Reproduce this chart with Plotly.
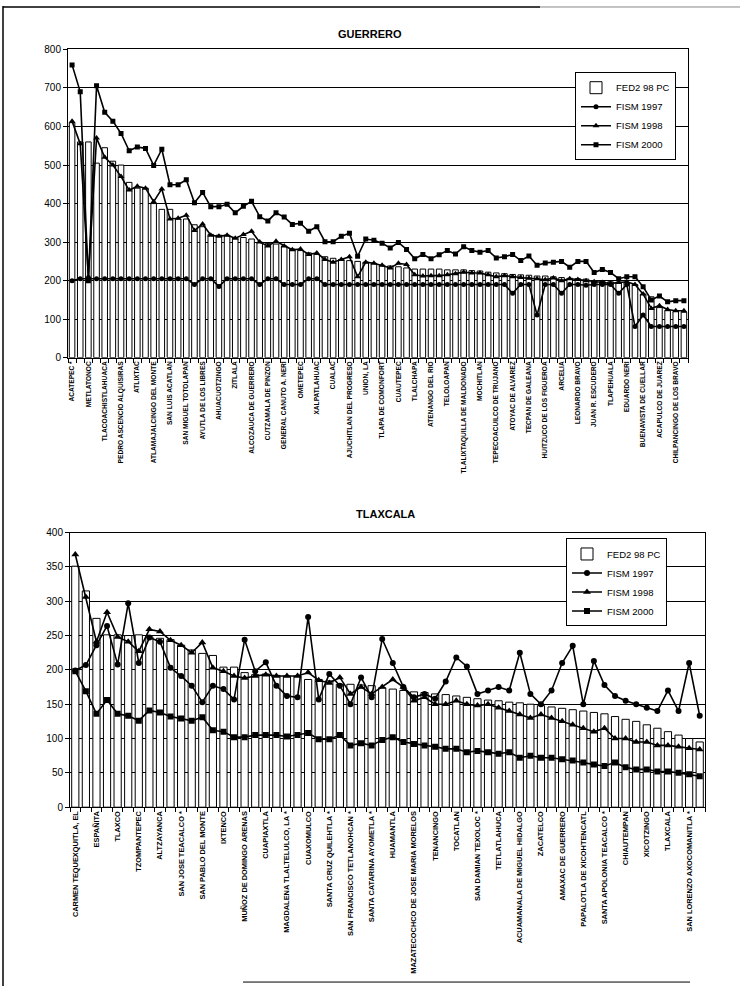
import plotly.graph_objects as go

# ---------------- GUERRERO ----------------
gro_labels = [
    "ACATEPEC *", "METLATONOC", "TLACOACHISTLAHUACA", "PEDRO ASCENCIO ALQUISIRAS",
    "ATLIXTAC", "ATLAMAJALCINGO DEL MONTE", "SAN LUIS ACATLAN", "SAN MIGUEL TOTOLAPAN",
    "AYUTLA DE LOS LIBRES", "AHUACUOTZINGO", "ZITLALA", "ALCOZAUCA DE GUERRERO",
    "CUTZAMALA DE PINZON", "GENERAL CANUTO A. NERI", "OMETEPEC", "XALPATLAHUAC",
    "CUALAC", "AJUCHITLAN DEL PROGRESO", "UNION, LA", "TLAPA DE COMONFORT",
    "CUAUTEPEC", "TLALCHAPA", "ATENANGO DEL RIO", "TELOLOAPAN",
    "TLALIXTAQUILLA DE MALDONADO", "MOCHITLAN", "TEPECOACUILCO DE TRUJANO",
    "ATOYAC DE ALVAREZ", "TECPAN DE GALEANA", "HUITZUCO DE LOS FIGUEROA", "ARCELIA",
    "LEONARDO BRAVO", "JUAN R. ESCUDERO", "TLAPEHUALA", "EDUARDO NERI",
    "BUENAVISTA DE CUELLAR", "ACAPULCO DE JUAREZ", "CHILPANCINGO DE LOS BRAVO",
]
gro_fed = [
    610, 560, 560, 505, 545, 510, 500, 455, 440, 440,
    400, 385, 385, 360, 360, 345, 340, 320, 318, 318,
    312, 312, 308, 300, 296, 295, 290, 282, 278, 272,
    268, 262, 258, 255, 252, 250, 248, 245, 240, 238,
    236, 233, 230, 230, 230, 230, 228, 228, 228, 226,
    225, 222, 220, 218, 216, 215, 214, 212, 212, 210,
    208, 206, 205, 204, 200, 198, 197, 196, 195, 190,
    165, 158, 130, 122, 120, 118,
]
gro_f97 = [
    200, 205, 205, 205, 205, 205, 205, 205, 205, 205,
    205, 205, 205, 205, 205, 190, 205, 205, 185, 205,
    205, 205, 205, 190, 205, 205, 190, 190, 190, 205,
    205, 190, 190, 190, 190, 190, 190, 190, 190, 190,
    190, 190, 190, 190, 190, 190, 190, 190, 190, 190,
    190, 190, 190, 190, 167, 190, 190, 111, 190, 190,
    167, 190, 190, 188, 190, 190, 190, 167, 190, 81,
    111, 81, 81, 81, 81, 81,
]
gro_f98 = [
    614, 555, 210, 570, 520, 500, 470, 435, 445, 440,
    405, 438, 360, 362, 370, 330, 347, 318, 315, 318,
    310, 320, 328, 300, 290, 302, 290, 280, 282, 268,
    272, 255, 248, 255, 262, 210, 248, 245, 240, 233,
    245, 242, 215, 212, 213, 213, 215, 218, 222, 220,
    220, 215, 210, 213, 210, 208, 206, 205, 202, 207,
    200, 205, 203, 200, 197, 195, 193, 195, 197, 190,
    165, 128, 135, 125, 122, 122,
]
gro_f00 = [
    760, 690, 200, 706, 637, 614, 582, 537, 547, 543,
    499, 541, 449, 449, 462, 402, 429, 392, 392, 398,
    376, 393, 406, 366, 355, 376, 365, 346, 349, 328,
    340, 301, 301, 315, 323, 263, 308, 305, 297, 285,
    299, 281, 257, 268, 257, 267, 278, 269, 288, 278,
    274, 278, 259, 262, 268, 252, 264, 240, 246, 248,
    250, 235, 250, 250, 221, 229, 221, 205, 210, 210,
    184, 150, 160, 145, 148, 148,
]

# ---------------- TLAXCALA ----------------
tlx_labels = [
    "CARMEN TEQUEXQUITLA, EL", "ESPAÑITA", "TLAXCO", "TZOMPANTEPEC", "ALTZAYANCA",
    "SAN JOSE TEACALCO *", "SAN PABLO DEL MONTE", "IXTENCO", "MUÑOZ DE DOMINGO ARENAS",
    "CUAPIAXTLA", "MAGDALENA TLALTELULCO, LA *", "CUAXOMULCO", "SANTA CRUZ QUILEHTLA *",
    "SAN FRANCISCO TETLANOHCAN *", "SANTA CATARINA AYOMETLA *", "HUAMANTLA",
    "MAZATECOCHCO DE JOSE MARIA MORELOS", "TENANCINGO", "TOCATLAN", "SAN DAMIAN TEXOLOC *",
    "TETLATLAHUCA", "ACUAMANALA DE MIGUEL HIDALGO", "ZACATELCO", "AMAXAC DE GUERRERO",
    "PAPALOTLA DE XICOHTENCATL", "SANTA APOLONIA TEACALCO *", "CHIAUTEMPAN", "XICOTZINGO",
    "TLAXCALA", "SAN LORENZO AXOCOMANITLA *",
]
tlx_fed = [
    351, 315, 275, 251, 251, 250, 251, 248, 246, 244,
    236, 229, 224, 221, 204, 204, 196, 193, 194, 192,
    191, 191, 186, 186, 184, 179, 179, 178, 177, 174,
    172, 170, 168, 167, 165, 164, 162, 160, 158, 156,
    155, 153, 152, 150, 148, 146, 144, 142, 140, 138,
    136, 132, 128, 125, 120, 115, 110, 105, 100, 95,
]
tlx_f97 = [
    199, 207, 236, 264, 208, 297, 210, 247, 241, 203,
    191, 177, 153, 177, 172, 157, 244, 198, 211, 177,
    162, 160, 277, 157, 194, 177, 150, 189, 160, 245,
    210, 175, 160, 165, 158, 183, 218, 205, 165, 170,
    175, 170, 225, 165, 150, 170, 210, 235, 150, 213,
    178, 162, 155, 150, 145, 140, 170, 140, 210, 133,
]
tlx_f98 = [
    368, 306, 241, 284, 248, 241, 227, 259, 256, 243,
    236, 225, 240, 203, 198, 191, 188, 191, 193, 191,
    191, 191, 196, 185, 181, 189, 165, 175, 165, 175,
    186, 175, 155, 160, 150, 150, 155, 150, 148, 150,
    145, 140, 135, 130, 135, 130, 125, 120, 115, 110,
    115, 100, 100, 95, 95, 90, 90, 88, 86, 84,
]
tlx_f00 = [
    198, 169, 136, 156, 136, 133, 126, 141, 138, 132,
    129, 126, 131, 112, 110, 102, 102, 105, 105, 105,
    103, 105, 108, 99, 99, 105, 90, 93, 90, 98,
    102, 95, 92, 90, 88, 85, 85, 80, 82, 80,
    78, 80, 72, 75, 72, 72, 70, 68, 65, 62,
    60, 65, 58, 55, 55, 52, 52, 50, 48, 45,
]

W, H = 740, 992
FONT = "Liberation Sans, Arial, sans-serif"


def px_x(p):
    return p / W


def px_y(p):
    return 1 - p / H


fig = go.Figure()


def add_panel(xa, ya, legend, fed, f97, f98, f00, msz):
    n = len(fed)
    xs = list(range(1, n + 1))
    common = dict(xaxis=xa, yaxis=ya, legend=legend)
    fig.add_trace(go.Bar(
        x=xs, y=fed, name="FED2 98 PC",
        marker=dict(color="white", line=dict(color="black", width=1)),
        **common))
    specs = [("FISM 1997", f97, "circle", msz),
             ("FISM 1998", f98, "triangle-up", msz + 1),
             ("FISM 2000", f00, "square", msz)]
    for name, ys, sym, sz in specs:
        fig.add_trace(go.Scatter(
            x=xs, y=ys, name=name, mode="lines+markers",
            line=dict(color="black", width=1.6),
            marker=dict(symbol=sym, size=sz, color="black"),
            **common))


add_panel("x", "y", "legend", gro_fed, gro_f97, gro_f98, gro_f00, 5)
add_panel("x2", "y2", "legend2", tlx_fed, tlx_f97, tlx_f98, tlx_f00, 6)


def xaxis_cfg(n, labels, dom, anchor, size):
    return dict(
        domain=dom, anchor=anchor, range=[0.5, n + 0.5],
        tickmode="array", tickvals=list(range(1, n + 1, 2)), ticktext=labels,
        tickangle=-90, ticks="", ticklen=0,
        tickfont=dict(family=FONT, size=size, color="black", weight="bold"),
        minor=dict(ticks="outside", tick0=0.5, dtick=1, ticklen=4,
                   tickcolor="black", showgrid=False),
        showline=True, linecolor="black", linewidth=1, mirror=True,
        showgrid=False, zeroline=False, fixedrange=True,
    )


def yaxis_cfg(rng, dt, dom, anchor):
    return dict(
        domain=dom, anchor=anchor, range=rng, dtick=dt,
        ticks="outside", ticklen=4, tickcolor="black",
        tickfont=dict(family=FONT, size=10, color="black"),
        showline=True, linecolor="black", linewidth=1, mirror=True,
        showgrid=True, gridcolor="black", gridwidth=1,
        zeroline=False, fixedrange=True,
    )


legend_style = dict(
    xanchor="left", yanchor="top",
    bgcolor="white", bordercolor="black", borderwidth=1,
    font=dict(family=FONT, size=9.5, color="black"),
    tracegroupgap=0, itemwidth=30,
)

fig.update_layout(
    width=W, height=H, autosize=False,
    margin=dict(l=0, r=0, t=0, b=0),
    paper_bgcolor="white", plot_bgcolor="white",
    barmode="overlay", bargap=0.32,
    showlegend=True,
    xaxis=xaxis_cfg(len(gro_fed), gro_labels, [px_x(68), px_x(688)], "y", 6.6),
    yaxis=yaxis_cfg([0, 800], 100, [px_y(356), px_y(44)], "x"),
    xaxis2=xaxis_cfg(len(tlx_fed), tlx_labels, [px_x(70), px_x(705)], "y2", 7.4),
    yaxis2=yaxis_cfg([0, 400], 50, [px_y(811), px_y(533)], "x2"),
    legend=dict(x=px_x(575), y=px_y(67), **legend_style),
    legend2=dict(x=px_x(566), y=px_y(539), **legend_style),
    annotations=[
        dict(text="<b>GUERRERO</b>", x=px_x(370), y=px_y(28), xref="paper", yref="paper",
             yanchor="middle", showarrow=False,
             font=dict(family=FONT, size=11, color="black")),
        dict(text="<b>TLAXCALA</b>", x=px_x(385), y=px_y(514), xref="paper", yref="paper",
             yanchor="middle", showarrow=False,
             font=dict(family=FONT, size=11, color="black")),
    ],
    shapes=[
        dict(type="line", xref="paper", yref="paper", x0=px_x(3), x1=px_x(3),
             y0=0, y1=1, line=dict(color="black", width=1.5)),
        dict(type="line", xref="paper", yref="paper", x0=px_x(3), x1=px_x(540),
             y0=px_y(1), y1=px_y(1), line=dict(color="black", width=1.5)),
        dict(type="line", xref="paper", yref="paper", x0=px_x(540), x1=1,
             y0=px_y(1), y1=px_y(1), line=dict(color="#888888", width=1)),
        dict(type="line", xref="paper", yref="paper", x0=px_x(243), x1=px_x(690),
             y0=px_y(988), y1=px_y(988), line=dict(color="black", width=1)),
    ],
)

fig.write_html("out.html")
